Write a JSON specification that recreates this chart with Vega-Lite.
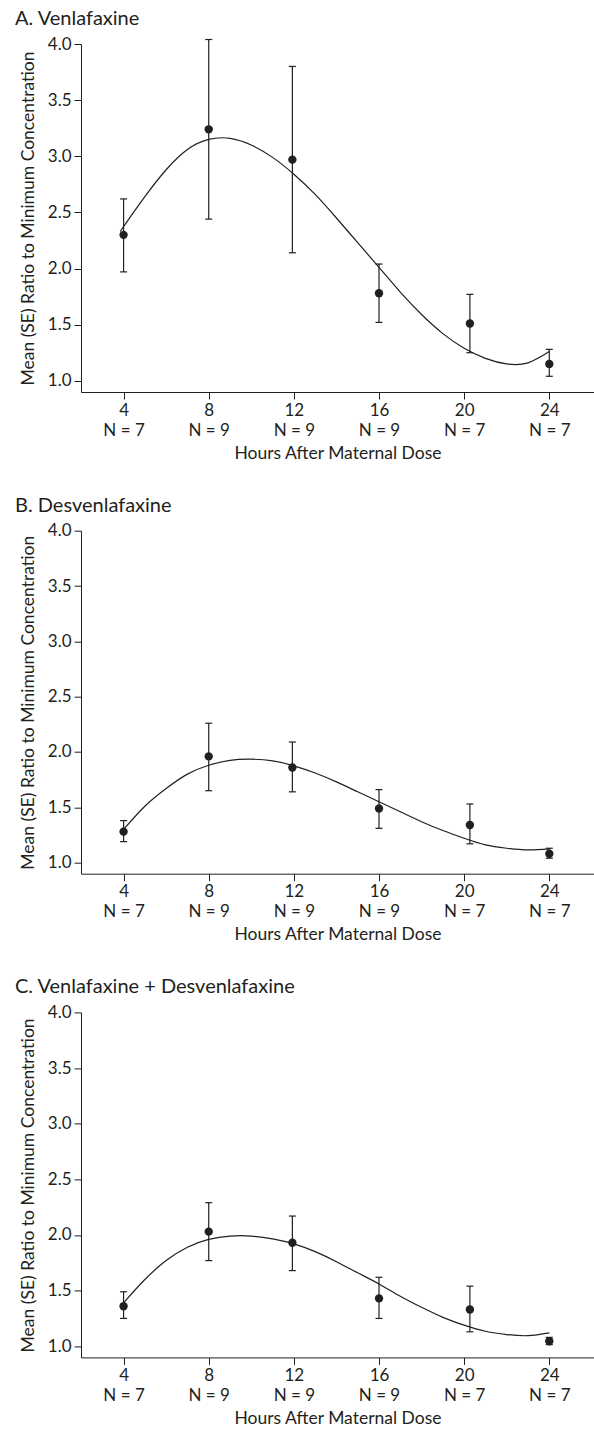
{
  "$schema": "https://vega.github.io/schema/vega-lite/v6.json",
  "autosize": {"type": "pad"},
  "padding": {"left": 15, "top": 9, "right": 0, "bottom": 0},
  "background": "white",
  "datasets": {
    "ptsA": [
      {"hour": 4, "mean": 2.30, "lo": 1.97, "hi": 2.62},
      {"hour": 8, "mean": 3.24, "lo": 2.44, "hi": 4.04},
      {"hour": 11.93, "mean": 2.97, "lo": 2.14, "hi": 3.80},
      {"hour": 16, "mean": 1.78, "lo": 1.52, "hi": 2.04},
      {"hour": 20.27, "mean": 1.51, "lo": 1.25, "hi": 1.77},
      {"hour": 24, "mean": 1.15, "lo": 1.04, "hi": 1.28}
    ],
    "curveA": [
      {"hour": 3.84, "mean": 2.33}, {"hour": 5, "mean": 2.64}, {"hour": 6, "mean": 2.88},
      {"hour": 7, "mean": 3.06}, {"hour": 8, "mean": 3.15}, {"hour": 9, "mean": 3.16},
      {"hour": 10, "mean": 3.10}, {"hour": 11, "mean": 2.99}, {"hour": 12, "mean": 2.84},
      {"hour": 13, "mean": 2.66}, {"hour": 14, "mean": 2.45}, {"hour": 15, "mean": 2.23},
      {"hour": 16, "mean": 2.01}, {"hour": 17, "mean": 1.79}, {"hour": 18, "mean": 1.59},
      {"hour": 19, "mean": 1.42}, {"hour": 20, "mean": 1.29}, {"hour": 21, "mean": 1.20},
      {"hour": 22, "mean": 1.15}, {"hour": 23, "mean": 1.16}, {"hour": 24, "mean": 1.26}
    ],
    "ptsB": [
      {"hour": 4, "mean": 1.28, "lo": 1.19, "hi": 1.38},
      {"hour": 8, "mean": 1.96, "lo": 1.65, "hi": 2.26},
      {"hour": 11.93, "mean": 1.86, "lo": 1.64, "hi": 2.09},
      {"hour": 16, "mean": 1.49, "lo": 1.31, "hi": 1.66},
      {"hour": 20.27, "mean": 1.34, "lo": 1.17, "hi": 1.53},
      {"hour": 24, "mean": 1.08, "lo": 1.04, "hi": 1.13}
    ],
    "curveB": [
      {"hour": 4, "mean": 1.30}, {"hour": 5, "mean": 1.51}, {"hour": 6, "mean": 1.67},
      {"hour": 7, "mean": 1.80}, {"hour": 8, "mean": 1.88}, {"hour": 9, "mean": 1.925},
      {"hour": 10, "mean": 1.935}, {"hour": 11, "mean": 1.92}, {"hour": 12, "mean": 1.875},
      {"hour": 13, "mean": 1.81}, {"hour": 14, "mean": 1.73}, {"hour": 15, "mean": 1.64},
      {"hour": 16, "mean": 1.55}, {"hour": 17, "mean": 1.46}, {"hour": 18, "mean": 1.37},
      {"hour": 19, "mean": 1.29}, {"hour": 20, "mean": 1.22}, {"hour": 21, "mean": 1.16},
      {"hour": 22, "mean": 1.13}, {"hour": 23, "mean": 1.115}, {"hour": 24, "mean": 1.125}
    ],
    "ptsC": [
      {"hour": 4, "mean": 1.36, "lo": 1.25, "hi": 1.49},
      {"hour": 8, "mean": 2.03, "lo": 1.77, "hi": 2.29},
      {"hour": 11.93, "mean": 1.93, "lo": 1.68, "hi": 2.17},
      {"hour": 16, "mean": 1.43, "lo": 1.25, "hi": 1.62},
      {"hour": 20.27, "mean": 1.33, "lo": 1.13, "hi": 1.54},
      {"hour": 24, "mean": 1.045, "lo": 1.015, "hi": 1.08}
    ],
    "curveC": [
      {"hour": 4, "mean": 1.39}, {"hour": 5, "mean": 1.60}, {"hour": 6, "mean": 1.77},
      {"hour": 7, "mean": 1.89}, {"hour": 8, "mean": 1.96}, {"hour": 9, "mean": 1.99},
      {"hour": 10, "mean": 1.99}, {"hour": 11, "mean": 1.965}, {"hour": 12, "mean": 1.92},
      {"hour": 13, "mean": 1.85}, {"hour": 14, "mean": 1.76}, {"hour": 15, "mean": 1.66},
      {"hour": 16, "mean": 1.56}, {"hour": 17, "mean": 1.45}, {"hour": 18, "mean": 1.35},
      {"hour": 19, "mean": 1.26}, {"hour": 20, "mean": 1.19}, {"hour": 21, "mean": 1.135},
      {"hour": 22, "mean": 1.105}, {"hour": 23, "mean": 1.095}, {"hour": 24, "mean": 1.12}
    ]
  },
  "vconcat": [
    {
      "width": 513,
      "height": 348,
      "title": {"text": "A. Venlafaxine"},
      "encoding": {
        "x": {"field": "hour", "type": "quantitative", "scale": {"domain": [2, 26.1], "nice": false, "zero": false},
              "axis": {"values": [4, 8, 12, 16, 20, 24], "labelExpr": "[datum.label, (datum.value == 4 || datum.value >= 20) ? 'N = 7' : 'N = 9']", "title": "Hours After Maternal Dose", "labelPadding": 3, "labelLineHeight": 20, "titlePadding": 6, "labelFlush": false}}
      },
      "layer": [
        {"data": {"name": "curveA"}, "mark": {"type": "line", "interpolate": "natural", "color": "#231f20", "strokeWidth": 1.2},
         "encoding": {"y": {"field": "mean", "type": "quantitative", "title": "Mean (SE) Ratio to Minimum Concentration", "scale": {"domain": [0.9, 4.0], "nice": false, "zero": false}, "axis": {"values": [1, 1.5, 2, 2.5, 3, 3.5, 4], "format": ".1f", "labelPadding": 3, "titlePadding": 10}}}},
        {"data": {"name": "ptsA"}, "mark": {"type": "rule", "color": "#231f20", "strokeWidth": 1.2},
         "encoding": {"y": {"field": "lo", "type": "quantitative", "title": "Mean (SE) Ratio to Minimum Concentration"}, "y2": {"field": "hi"}}},
        {"data": {"name": "ptsA"}, "mark": {"type": "tick", "orient": "horizontal", "size": 7, "thickness": 1.2, "color": "#231f20", "opacity": 1},
         "encoding": {"y": {"field": "lo", "type": "quantitative", "title": "Mean (SE) Ratio to Minimum Concentration"}}},
        {"data": {"name": "ptsA"}, "mark": {"type": "tick", "orient": "horizontal", "size": 7, "thickness": 1.2, "color": "#231f20", "opacity": 1},
         "encoding": {"y": {"field": "hi", "type": "quantitative", "title": "Mean (SE) Ratio to Minimum Concentration"}}},
        {"data": {"name": "ptsA"}, "mark": {"type": "point", "filled": true, "size": 70, "color": "#231f20", "opacity": 1},
         "encoding": {"y": {"field": "mean", "type": "quantitative", "title": "Mean (SE) Ratio to Minimum Concentration"}}}
      ]
    },
    {
      "width": 513,
      "height": 343,
      "title": {"text": "B. Desvenlafaxine"},
      "encoding": {
        "x": {"field": "hour", "type": "quantitative", "scale": {"domain": [2, 26.1], "nice": false, "zero": false},
              "axis": {"values": [4, 8, 12, 16, 20, 24], "labelExpr": "[datum.label, (datum.value == 4 || datum.value >= 20) ? 'N = 7' : 'N = 9']", "title": "Hours After Maternal Dose", "labelPadding": 3, "labelLineHeight": 20, "titlePadding": 6, "labelFlush": false}}
      },
      "layer": [
        {"data": {"name": "curveB"}, "mark": {"type": "line", "interpolate": "natural", "color": "#231f20", "strokeWidth": 1.2},
         "encoding": {"y": {"field": "mean", "type": "quantitative", "title": "Mean (SE) Ratio to Minimum Concentration", "scale": {"domain": [0.9, 4.0], "nice": false, "zero": false}, "axis": {"values": [1, 1.5, 2, 2.5, 3, 3.5, 4], "format": ".1f", "labelPadding": 3, "titlePadding": 10}}}},
        {"data": {"name": "ptsB"}, "mark": {"type": "rule", "color": "#231f20", "strokeWidth": 1.2},
         "encoding": {"y": {"field": "lo", "type": "quantitative", "title": "Mean (SE) Ratio to Minimum Concentration"}, "y2": {"field": "hi"}}},
        {"data": {"name": "ptsB"}, "mark": {"type": "tick", "orient": "horizontal", "size": 7, "thickness": 1.2, "color": "#231f20", "opacity": 1},
         "encoding": {"y": {"field": "lo", "type": "quantitative", "title": "Mean (SE) Ratio to Minimum Concentration"}}},
        {"data": {"name": "ptsB"}, "mark": {"type": "tick", "orient": "horizontal", "size": 7, "thickness": 1.2, "color": "#231f20", "opacity": 1},
         "encoding": {"y": {"field": "hi", "type": "quantitative", "title": "Mean (SE) Ratio to Minimum Concentration"}}},
        {"data": {"name": "ptsB"}, "mark": {"type": "point", "filled": true, "size": 70, "color": "#231f20", "opacity": 1},
         "encoding": {"y": {"field": "mean", "type": "quantitative", "title": "Mean (SE) Ratio to Minimum Concentration"}}}
      ]
    },
    {
      "width": 513,
      "height": 345,
      "title": {"text": "C. Venlafaxine + Desvenlafaxine"},
      "encoding": {
        "x": {"field": "hour", "type": "quantitative", "scale": {"domain": [2, 26.1], "nice": false, "zero": false},
              "axis": {"values": [4, 8, 12, 16, 20, 24], "labelExpr": "[datum.label, (datum.value == 4 || datum.value >= 20) ? 'N = 7' : 'N = 9']", "title": "Hours After Maternal Dose", "labelPadding": 3, "labelLineHeight": 20, "titlePadding": 6, "labelFlush": false}}
      },
      "layer": [
        {"data": {"name": "curveC"}, "mark": {"type": "line", "interpolate": "natural", "color": "#231f20", "strokeWidth": 1.2},
         "encoding": {"y": {"field": "mean", "type": "quantitative", "title": "Mean (SE) Ratio to Minimum Concentration", "scale": {"domain": [0.9, 4.0], "nice": false, "zero": false}, "axis": {"values": [1, 1.5, 2, 2.5, 3, 3.5, 4], "format": ".1f", "labelPadding": 3, "titlePadding": 10}}}},
        {"data": {"name": "ptsC"}, "mark": {"type": "rule", "color": "#231f20", "strokeWidth": 1.2},
         "encoding": {"y": {"field": "lo", "type": "quantitative", "title": "Mean (SE) Ratio to Minimum Concentration"}, "y2": {"field": "hi"}}},
        {"data": {"name": "ptsC"}, "mark": {"type": "tick", "orient": "horizontal", "size": 7, "thickness": 1.2, "color": "#231f20", "opacity": 1},
         "encoding": {"y": {"field": "lo", "type": "quantitative", "title": "Mean (SE) Ratio to Minimum Concentration"}}},
        {"data": {"name": "ptsC"}, "mark": {"type": "tick", "orient": "horizontal", "size": 7, "thickness": 1.2, "color": "#231f20", "opacity": 1},
         "encoding": {"y": {"field": "hi", "type": "quantitative", "title": "Mean (SE) Ratio to Minimum Concentration"}}},
        {"data": {"name": "ptsC"}, "mark": {"type": "point", "filled": true, "size": 70, "color": "#231f20", "opacity": 1},
         "encoding": {"y": {"field": "mean", "type": "quantitative", "title": "Mean (SE) Ratio to Minimum Concentration"}}}
      ]
    }
  ],
  "spacing": 138.7,
  "bounds": "flush",
  "config": {
    "font": "Lato",
    "view": {"stroke": null},
    "axis": {
      "grid": false,
      "domainColor": "#231f20",
      "tickColor": "#231f20",
      "labelColor": "#231f20",
      "titleColor": "#231f20",
      "labelFont": "Lato",
      "titleFont": "Lato",
      "labelFontSize": 17,
      "titleFontSize": 17.5,
      "titleFontWeight": "normal",
      "tickSize": 7,
      "domainWidth": 1,
      "tickWidth": 1
    },
    "title": {
      "anchor": "start",
      "frame": "group",
      "dx": -66,
      "font": "Lato",
      "fontSize": 20,
      "fontWeight": "normal",
      "color": "#231f20",
      "offset": 6
    }
  }
}
